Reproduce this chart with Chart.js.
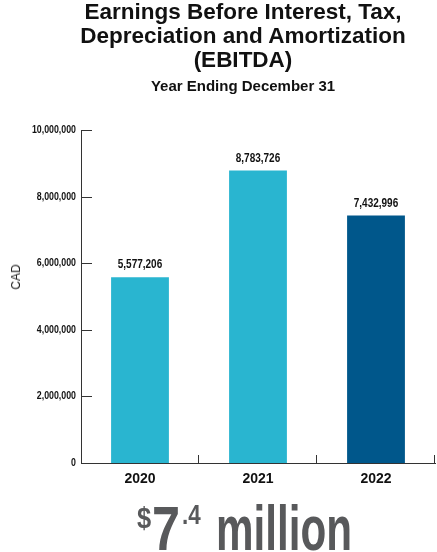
<!DOCTYPE html>
<html>
<head>
<meta charset="utf-8">
<script src="https://cdn.jsdelivr.net/npm/chart.js@4.4.1/dist/chart.umd.min.js"></script>
<style>
  html, body { margin: 0; padding: 0; background: #fff; }
  #wrap { position: relative; width: 437px; height: 552px; overflow: hidden; }
  #chart { position: absolute; left: 0; top: 0; }
  .title {
    position: absolute; left: 50px; width: 386px; top: 0;
    text-align: center; font-family: "Liberation Sans", Arial, sans-serif;
    font-weight: bold; color: #111;
  }
  .title .main { font-size: 22.5px; line-height: 24px; }
  .title .sub { font-size: 15px; line-height: 16px; margin-top: 6px; }
  .ylabel {
    position: absolute; left: 16px; top: 277px;
    transform: translate(-50%, -50%) rotate(-90deg);
    font-family: "Liberation Sans", Arial, sans-serif; font-size: 12px; color: #222;
  }
  .big span {
    position: absolute; white-space: nowrap; color: #58595b;
    font-family: "Liberation Sans", Arial, sans-serif; font-weight: bold;
    transform-origin: 0 0; line-height: 1;
  }
</style>
</head>
<body>
<div id="wrap">
  <canvas id="chart" width="437" height="552"></canvas>
  <div class="title">
    <div class="main">Earnings Before Interest, Tax,<br>Depreciation and Amortization<br>(EBITDA)</div>
    <div class="sub">Year Ending December 31</div>
  </div>
  <div class="ylabel">CAD</div>
  <div class="big">
    <span style="left:137px; top:503px; font-size:30px; transform:scaleX(0.85)">$</span>
    <span style="left:152px; top:497px; font-size:63px; transform:scaleX(0.8)">7</span>
    <span style="left:182px; top:501px; font-size:28px; transform:scaleX(0.8)">.4</span>
    <span style="left:216px; top:497px; font-size:63px; transform:scaleX(0.67)">million</span>
  </div>
</div>
<script>
// EBITDA by year
const years = ['2020', '2021', '2022'];
const ebitda = [5577206, 8783726, 7432996];
const barColors = ['#29b5d0', '#29b5d0', '#00578b'];
const yTicks = [0, 2000000, 4000000, 6000000, 8000000, 10000000];

const axisColor = '#333';
const sans = '"Liberation Sans", Arial, sans-serif';

// condensed-looking text: squeeze the glyphs horizontally
function narrowText(ctx, text, x, y, align, baseline, size) {
    ctx.save();
    ctx.translate(x, y);
    ctx.scale(0.8, 1);
    ctx.font = 'bold ' + size + 'px ' + sans;
    ctx.fillStyle = '#111';
    ctx.textAlign = align;
    ctx.textBaseline = baseline;
    ctx.fillText(text, 0, 0);
    ctx.restore();
}

// value labels above each bar
const valueLabels = {
    id: 'valueLabels',
    afterDatasetsDraw(chart) {
        const meta = chart.getDatasetMeta(0);
        meta.data.forEach(function(bar, i) {
            const v = chart.data.datasets[0].data[i];
            narrowText(chart.ctx, v.toLocaleString('en-US'), bar.x, bar.y - 6, 'center', 'bottom', 12.5);
        });
    }
};

// y tick labels plus short tick marks drawn inward from both axes
const innerTicks = {
    id: 'innerTicks',
    afterDraw(chart) {
        const ctx = chart.ctx;
        const area = chart.chartArea;
        const y = chart.scales.y;
        const x = chart.scales.x;
        yTicks.forEach(function(t) {
            narrowText(ctx, t.toLocaleString('en-US'), area.left - 5, y.getPixelForValue(t), 'right', 'middle', 11);
        });
        ctx.save();
        ctx.strokeStyle = axisColor;
        ctx.lineWidth = 1;
        ctx.beginPath();
        yTicks.forEach(function(t) {
            if (t === 0) return;
            const py = Math.round(y.getPixelForValue(t)) + 0.5;
            ctx.moveTo(area.left, py);
            ctx.lineTo(area.left + 11, py);
        });
        const step = x.getPixelForValue(1) - x.getPixelForValue(0);
        for (let i = 0; i < years.length; i++) {
            const px = Math.round(x.getPixelForValue(i) + step / 2) - 0.5;
            ctx.moveTo(px, area.bottom);
            ctx.lineTo(px, area.bottom - 8);
        }
        ctx.stroke();
        ctx.restore();
    }
};

new Chart(document.getElementById('chart'), {
    type: 'bar',
    data: {
        labels: years,
        datasets: [{
            data: ebitda,
            backgroundColor: barColors,
            borderWidth: 0,
            categoryPercentage: 1.0,
            barPercentage: 0.49
        }]
    },
    options: {
        responsive: false,
        animation: false,
        layout: { padding: { top: 130, right: 2, left: 0, bottom: 0 } },
        plugins: {
            legend: { display: false },
            tooltip: { enabled: false }
        },
        scales: {
            x: {
                grid: { display: false, drawTicks: false },
                border: { display: true, color: axisColor, width: 1 },
                ticks: {
                    padding: 8,
                    color: '#111',
                    font: { family: sans, weight: 'bold', size: 14 }
                },
                afterFit(scale) { scale.height = 89; }
            },
            y: {
                min: 0,
                max: 10000000,
                afterBuildTicks(scale) {
                    scale.ticks = yTicks.map(function(v) { return { value: v }; });
                },
                grid: { display: false, drawTicks: false },
                border: { display: true, color: axisColor, width: 1 },
                ticks: { display: false },
                afterFit(scale) { scale.width = 81; }
            }
        }
    },
    plugins: [valueLabels, innerTicks]
});
</script>
</body>
</html>
